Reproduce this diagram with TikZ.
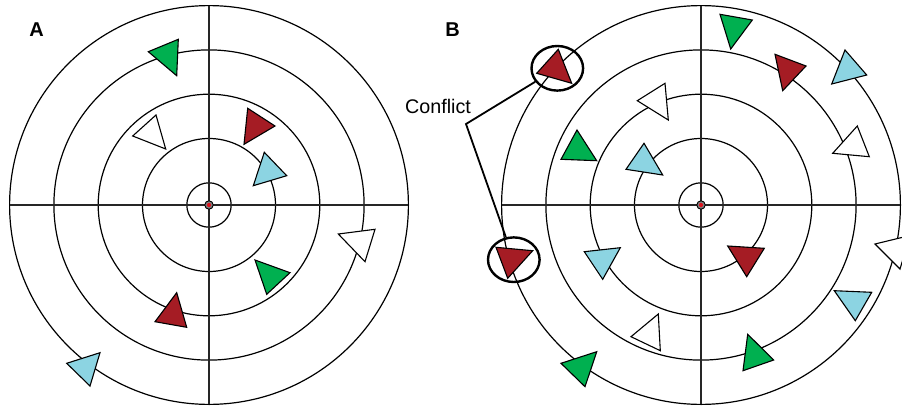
\documentclass[tikz,border=0pt]{standalone}
\usepackage{fontspec}
\setmainfont{Liberation Sans}
\usetikzlibrary{shapes.geometric}
\definecolor{tgreen}{RGB}{0,176,80}
\definecolor{tred}{RGB}{165,28,36}
\definecolor{tblue}{RGB}{140,212,226}
\definecolor{dotred}{RGB}{220,20,30}
\newcommand\tri[4]{\filldraw[tri, fill=#1] #2 -- #3 -- #4 -- cycle;}
\begin{document}
\begin{tikzpicture}[x=1pt,y=-1pt,
  ring/.style={line width=1.2pt},
  axisline/.style={line width=1.4pt, draw=black!85},
  tri/.style={draw=black, line width=1.1pt},
  conflictring/.style={draw, ellipse, line width=2.4pt, minimum width=51.6pt, minimum height=44.6pt, inner sep=0pt},
  conflictline/.style={line width=1.8pt},
  panel/.style={font=\fontsize{20}{24}\selectfont\bfseries, anchor=base, inner sep=0pt},
  lbl/.style={font=\fontsize{19.7}{23}\selectfont, anchor=base, inner sep=0pt}]
\useasboundingbox (0,0) rectangle (902,407);
\coordinate (OA) at (209,205);
\coordinate (OB) at (701,205);
% rings and axes
\foreach \c in {OA,OB} {
  \foreach \r in {22.2,66.5,110.8,155.1,199.4}
    \draw[ring] (\c) circle[radius=\r pt];
  \draw[axisline] (\c) ++(-199.4,0) -- ++(398.8,0);
  \draw[axisline] (\c) ++(0,-199.4) -- ++(0,398.8);
  \filldraw[draw=black, fill=black!50, line width=0.9pt] (\c) circle[radius=4.2pt];
  \fill[dotred] (\c) circle[radius=2.1pt];
}
% panel labels
\node[panel] (la) at (36.7,36) {A};
\node[panel] (lb) at (452.5,36) {B};
% panel A triangles
\tri{tgreen}{(148.3,51.7)}{(178.3,39.3)}{(176.7,75.7)}
\tri{white}{(132.7,136)}{(156,115)}{(165.7,149)}
\tri{tred}{(247.7,108.3)}{(275,126)}{(244,144.3)}
\tri{tblue}{(264.3,152.3)}{(286.7,175.7)}{(253.3,185.7)}
\tri{tgreen}{(255,260)}{(290,272.7)}{(266.7,294.3)}
\tri{tred}{(176.7,292.7)}{(186.7,327.3)}{(155,321.7)}
\tri{white}{(338.3,234)}{(375,229.3)}{(365,261.7)}
\tri{tblue}{(66.7,363.3)}{(100,352.7)}{(90,386)}
% panel B triangles
\tri{tred}{(558.3,49.3)}{(571.7,83.3)}{(536.7,73.3)}
\tri{tgreen}{(720,14.3)}{(752.3,20)}{(730.7,49)}
\tri{tred}{(775,54.3)}{(806,66)}{(782.7,90.7)}
\tri{tblue}{(845,50)}{(866.7,75)}{(831.7,84)}
\tri{white}{(637.3,100.7)}{(665,83.3)}{(668.3,120)}
\tri{tgreen}{(561,159.3)}{(577,130)}{(596.7,160.7)}
\tri{tblue}{(626,169.3)}{(644,143.3)}{(662.7,175)}
\tri{white}{(832.7,153.3)}{(857.3,126)}{(869.3,156.7)}
\tri{white}{(875,244)}{(910,235.5)}{(900,269)}
\tri{tblue}{(834.3,290.7)}{(871.7,292.3)}{(855.3,320.7)}
\tri{tgreen}{(747.7,334.3)}{(773.7,360)}{(743,370.7)}
\tri{white}{(631,336.7)}{(658.3,314)}{(660.3,350.7)}
\tri{tgreen}{(561,363.3)}{(596.7,351.7)}{(585,386.7)}
\tri{tblue}{(584.3,251.7)}{(620.3,247.7)}{(602.7,279.3)}
\tri{tred}{(496,247.3)}{(532.7,250.7)}{(507.7,278.3)}
\tri{tred}{(727.7,246)}{(764.3,248.3)}{(746.7,276.7)}
% conflict annotation
\node[conflictring] (ctop) at (557.3,68.3) {};
\node[conflictring] (cbot) at (513.8,259.7) {};
\node[lbl] (clabel) at (438,113.3) {Conflict};
\coordinate (cbend) at (466,124);
\draw[conflictline] (ctop) -- (cbend) -- (cbot);
\end{tikzpicture}
\end{document}
